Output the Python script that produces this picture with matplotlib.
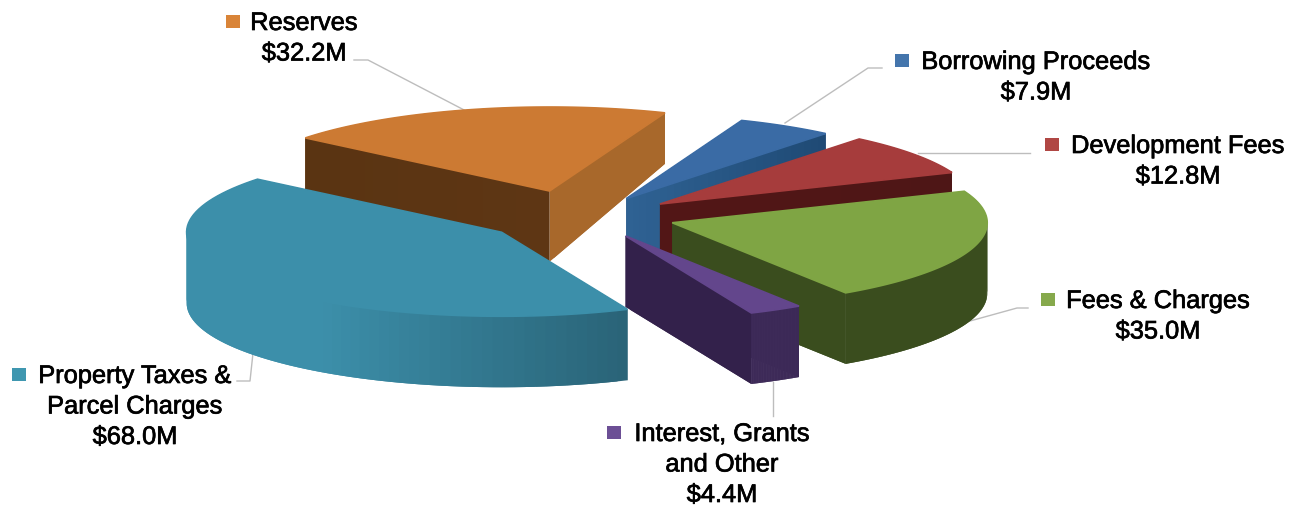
import numpy as np
import matplotlib
matplotlib.use("Agg")
import matplotlib.pyplot as plt
import matplotlib.patheffects as pe
from matplotlib.colors import to_rgb
from matplotlib.patches import Polygon, Rectangle

plt.rcParams['font.family'] = ['Liberation Sans', 'DejaVu Sans']

# Funding sources, clockwise from the top of the pie
categories = ["Borrowing Proceeds", "Development Fees", "Fees & Charges",
              "Interest, Grants\nand Other", "Property Taxes &\nParcel Charges", "Reserves"]
values = [7.9, 12.8, 35.0, 4.4, 68.0, 32.2]
explode = [0.24, 0.26, 0.27, 0.27, 0.36, 0.32]
# small screen shift for each slice (x, y)
nudge = [(-2, 2), (4, 3), (1, 2), (-5, 2), (2, 0), (-15, 3)]

top_colors = ["#3A6BA5", "#A63C3C", "#7FA544", "#63468C", "#3C8FAA", "#CC7A33"]
key_colors = ["#4475AC", "#B04744", "#86A94C", "#6C4F95", "#3F97B0", "#D98438"]
# (apex colour, far end colour) for the wall on each cut edge
wall_first = [("#24507E", "#24507E"), ("#521616", "#521616"), ("#3A4D1E", "#3A4D1E"),
              ("#33214B", "#33214B"), ("#2A6478", "#2A6478"), ("#5E3614", "#5A3412")]
wall_second = [("#2F6293", "#1F4A75"), ("#521616", "#4E1616"), ("#3A4D1E", "#3A4D1E"),
               ("#33214B", "#33214B"), ("#2A6478", "#2A6478"), ("#A8682B", "#A8682B")]
rim_from = ["#1F4A75", "#521616", "#3A4D1E", "#3D2A58", "#2A6478", "#A8682B"]
rim_to = ["#1F4A75", "#521616", "#3A4D1E", "#3D2A58", "#3C8FAA", "#A8682B"]

# label anchor (centre x, first line y) and key square (left, top)
label_pos = [(1036, 62), (1178, 146), (1158, 301), (722, 434), (135, 376), (304, 23)]
key_pos = [(895, 54), (1045, 138), (1041, 293), (607, 426), (12, 368), (226, 15)]
leaders = [
    [(882, 68), (868, 68), (785, 123)],
    [(1030, 153), (918, 153)],
    [(1028, 308), (1017, 308), (970, 321)],
    [(773, 382), (773, 416)],
    [(237, 381), (250, 381), (253, 353)],
    [(354, 60), (368, 60), (468, 112)],
]

# view of the pie plane
CX, CY = 590, 214
RX, RY = 315, 84
DEPTH = 71
START = 21.5


def project(u, v, z=0.0, shift=(0, 0)):
    # walls get a little shorter towards the back of the pie
    h = DEPTH * (1 - 0.3 * max(v - 0.3, 0))
    return CX + RX * u + shift[0], CY - RY * v + h * z + shift[1]


def ray(theta):
    return np.sin(np.radians(theta)), np.cos(np.radians(theta))


def mix(c1, c2, t):
    a, b = np.array(to_rgb(c1)), np.array(to_rgb(c2))
    return tuple(a + (b - a) * t)


def strip(ax, uv, c1, c2, zorder, shift, reach=1.0):
    # vertical wall below a path in the plane, shaded along its length
    n = len(uv) - 1
    for i in range(n):
        # each piece runs over the next one so no seams show
        u0, v0 = uv[i]
        quad = [project(u0, v0, 0, shift)]
        quad += [project(u, v, 0, shift) for u, v in uv[i + 1:i + 3]]
        quad += [project(u, v, 1, shift) for u, v in uv[i + 1:i + 3][::-1]]
        quad += [project(u0, v0, 1, shift)]
        t = min(i / max(n - 1, 1) / reach, 1.0)
        ax.add_patch(Polygon(quad, closed=True, fc=mix(c1, c2, t), ec='none', zorder=zorder + i * 1e-3))


fig = plt.figure(figsize=(12.99, 5.08), dpi=100)
ax = fig.add_axes([0, 0, 1, 1])
ax.set_xlim(0, 1299)
ax.set_ylim(508, 0)
ax.axis('off')

sweeps = np.array(values) / sum(values) * 360
edges = START + np.concatenate([[0], np.cumsum(sweeps)])
# painted back to front
order = [5, 0, 1, 2, 4, 3]

for rank, i in enumerate(order):
    a0, a1 = edges[i], edges[i + 1]
    mid = (a0 + a1) / 2
    ox, oy = explode[i] * np.array(ray(mid))
    apex = (ox, oy)
    arc = [(ox + ray(a)[0], oy + ray(a)[1]) for a in np.linspace(a0, a1, 80)]
    base = 10 * rank
    shift = nudge[i]

    # rim goes in front of the cut walls when the slice faces the viewer
    rim_z = base + (4 if ray(mid)[1] < 0 else 1)
    strip(ax, arc, rim_from[i], rim_to[i], rim_z, shift, reach=0.38)

    walls = [(arc[0], wall_first[i]), (arc[-1], wall_second[i])]
    walls.sort(key=lambda w: -w[0][1])
    for k, (end, cols) in enumerate(walls):
        pts = [(ox + (end[0] - ox) * t, oy + (end[1] - oy) * t) for t in np.linspace(0, 1, 30)]
        strip(ax, pts, cols[0], cols[1], base + 2 + k, shift)

    top = [project(*apex, 0, shift)] + [project(u, v, 0, shift) for u, v in arc]
    ax.add_patch(Polygon(top, closed=True, fc=top_colors[i], ec=top_colors[i], lw=1.2, zorder=base + 6))

stroke = [pe.withStroke(linewidth=0.5, foreground='black')]
for i, name in enumerate(categories):
    x, y = label_pos[i]
    lines = name.split("\n") + ["$%.1fM" % values[i]]
    for j, line in enumerate(lines):
        ax.text(x, y + j * 30.5, line, ha='center', va='center', fontsize=18.3, color='black',
                zorder=100, path_effects=stroke)
    kx, ky = key_pos[i]
    ax.add_patch(Rectangle((kx, ky), 14, 13, fc=key_colors[i], ec='none', zorder=100))
    xs, ys = zip(*leaders[i])
    ax.plot(xs, ys, color='#BDBDBD', lw=1.0, zorder=5)

plt.savefig("out.png", dpi=100)
